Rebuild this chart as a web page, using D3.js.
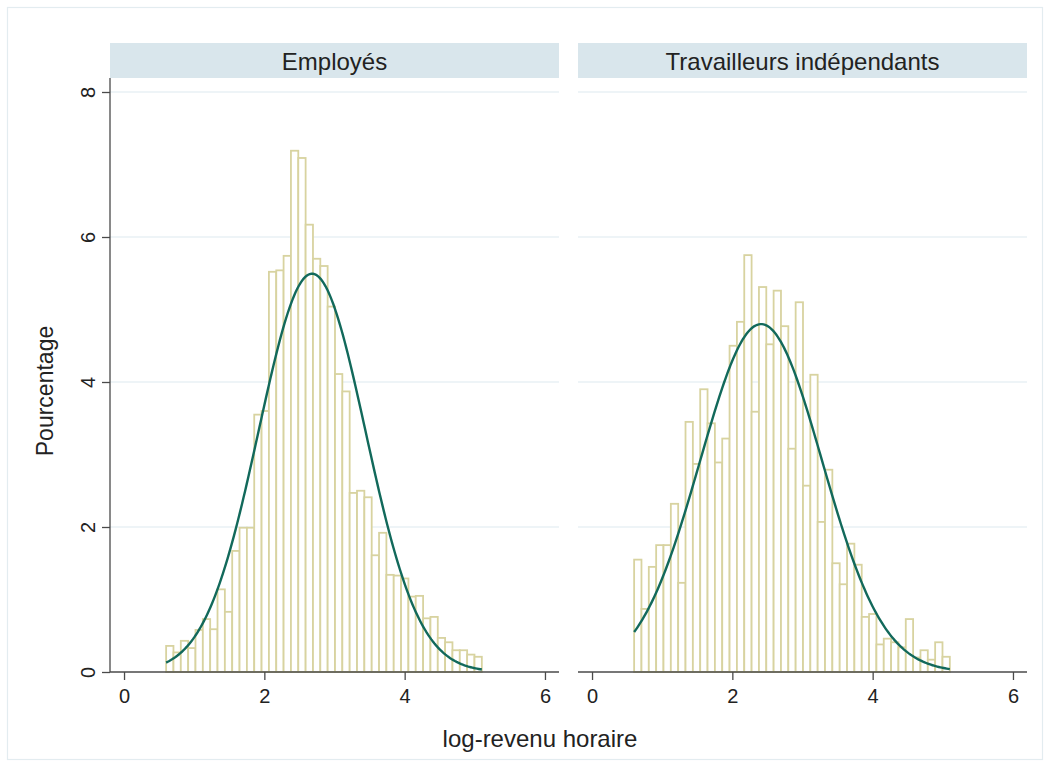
<!DOCTYPE html>
<html>
<head>
<meta charset="utf-8">
<script src="https://cdn.jsdelivr.net/npm/d3@7"></script>
<style>
  html, body { margin: 0; padding: 0; background: #ffffff; }
  svg { display: block; font-family: "Liberation Sans", Arial, sans-serif; }
</style>
</head>
<body>
<svg id="chart" width="1050" height="767"></svg>
<script>
// ---------------- DATA ----------------
const panelTitles = ["Employés", "Travailleurs indépendants"];
const xTicks = [0, 2, 4, 6];
const yTicks = [0, 2, 4, 6, 8];
const xTitle = "log-revenu horaire";
const yTitle = "Pourcentage";

// histogram bins (log hourly income)
const binMin = 0.6;
const binMax = 5.1;
const binCount = 43;

// percentages per bin
const employesPct = [
  0.36, 0.27, 0.43, 0.33, 0.58, 0.73, 0.59, 1.14, 0.83, 1.67,
  1.99, 1.99, 3.55, 3.60, 5.52, 5.54, 5.74, 7.19, 7.09, 6.17,
  5.70, 5.60, 5.04, 4.11, 3.87, 2.47, 2.50, 2.41, 1.61, 1.92,
  1.34, 1.33, 1.29, 1.04, 1.05, 0.74, 0.76, 0.47, 0.41, 0.30,
  0.30, 0.24, 0.21
];
const independantsPct = [
  1.55, 0.87, 1.45, 1.75, 1.75, 2.32, 1.23, 3.45, 2.87, 3.90,
  3.43, 2.89, 3.22, 4.50, 4.83, 5.75, 3.59, 5.31, 4.52, 5.26,
  4.77, 3.08, 5.10, 2.57, 4.10, 2.07, 2.79, 1.50, 1.21, 1.77,
  1.48, 0.76, 0.80, 0.38, 0.46, 0.41, 0.34, 0.73, 0.20, 0.30,
  0.17, 0.41, 0.21
];
// fitted normal density overlay (mean, sd of log income)
const normalMeans = [2.68, 2.41];
const normalSds = [0.76, 0.87];

// ---------------- LAYOUT ----------------
const svg = d3.select("#chart");
const W = 1050, H = 767;
const plotTop = 78, plotBottom = 672;
const stripTop = 43;
const panels = [
  { left: 110, right: 559, values: employesPct, mean: normalMeans[0], sd: normalSds[0], title: panelTitles[0] },
  { left: 578, right: 1027, values: independantsPct, mean: normalMeans[1], sd: normalSds[1], title: panelTitles[1] }
];
const binWidth = (binMax - binMin) / binCount;

const col = {
  frame: "#e3ecf0",
  strip: "#d9e6ec",
  grid: "#e8f1f4",
  bar: "#d8d3a0",
  curve: "#12695b",
  axis: "#4a4a4a",
  text: "#222222"
};

// outer frame
svg.append("rect")
  .attr("x", 7.5).attr("y", 7.5)
  .attr("width", W - 15).attr("height", H - 15)
  .attr("fill", "#ffffff")
  .attr("stroke", col.frame).attr("stroke-width", 1.2);

const y = d3.scaleLinear().domain([0, 8]).range([plotBottom, 92]);

panels.forEach((p, pi) => {
  const x = d3.scaleLinear().domain([-0.2, 6.2]).range([p.left, p.right]);
  const g = svg.append("g");

  // strip
  g.append("rect")
    .attr("x", p.left).attr("y", stripTop)
    .attr("width", p.right - p.left).attr("height", plotTop - stripTop)
    .attr("fill", col.strip);
  g.append("text")
    .attr("x", (p.left + p.right) / 2).attr("y", (stripTop + plotTop) / 2 + 1)
    .attr("dy", "0.36em")
    .attr("text-anchor", "middle")
    .attr("font-size", 24)
    .attr("fill", col.text)
    .text(p.title);

  // gridlines
  g.selectAll(".grid").data(yTicks.filter(t => t > 0)).enter()
    .append("line")
    .attr("x1", p.left).attr("x2", p.right)
    .attr("y1", d => y(d)).attr("y2", d => y(d))
    .attr("stroke", col.grid).attr("stroke-width", 1.5);

  // bars
  g.selectAll(".bar").data(p.values).enter()
    .append("rect")
    .attr("x", (d, i) => x(binMin + i * binWidth))
    .attr("width", (d, i) => x(binMin + (i + 1) * binWidth) - x(binMin + i * binWidth))
    .attr("y", d => y(d))
    .attr("height", d => plotBottom - y(d))
    .attr("fill", "#ffffff")
    .attr("stroke", col.bar)
    .attr("stroke-width", 1.8);

  // normal curve
  const pts = d3.range(0, 201).map(k => {
    const xv = binMin + (binMax - binMin) * k / 200;
    const z = (xv - p.mean) / p.sd;
    const dens = 100 * binWidth * Math.exp(-0.5 * z * z) / (p.sd * Math.sqrt(2 * Math.PI));
    return [xv, dens];
  });
  g.append("path")
    .datum(pts)
    .attr("d", d3.line().x(d => x(d[0])).y(d => y(d[1])))
    .attr("fill", "none")
    .attr("stroke", col.curve)
    .attr("stroke-width", 2.4);

  // x axis
  const xa = g.append("g")
    .attr("transform", `translate(0,${plotBottom})`)
    .call(d3.axisBottom(x).tickValues(xTicks).tickFormat(d3.format("d")).tickSize(8).tickPadding(9));
  xa.select(".domain").attr("d", `M${p.left},0H${p.right}`).attr("stroke", col.axis).attr("stroke-width", 1.3);
  xa.selectAll(".tick line").attr("stroke", col.axis).attr("stroke-width", 1.3);
  xa.selectAll(".tick text").attr("font-size", 20).attr("fill", col.text)
    .attr("font-family", '"Liberation Sans", Arial, sans-serif');

  // y axis (left panel only)
  if (pi === 0) {
    const ya = g.append("g")
      .attr("transform", `translate(${p.left},0)`)
      .call(d3.axisLeft(y).tickValues(yTicks).tickFormat(d3.format("d")).tickSize(8).tickPadding(0));
    ya.select(".domain").attr("d", `M0,${plotTop}V${plotBottom}`).attr("stroke", col.axis).attr("stroke-width", 1.3);
    ya.selectAll(".tick line").attr("stroke", col.axis).attr("stroke-width", 1.3);
    ya.selectAll(".tick text")
      .attr("font-size", 20).attr("fill", col.text)
      .attr("font-family", '"Liberation Sans", Arial, sans-serif')
      .attr("x", null).attr("dy", null)
      .attr("text-anchor", "middle")
      .attr("transform", "translate(-22,0) rotate(-90)")
      .attr("y", 0)
      .attr("dy", "0.36em");
  }
});

// axis titles
svg.append("text")
  .attr("x", 540)
  .attr("y", 738)
  .attr("dy", "0.36em")
  .attr("text-anchor", "middle")
  .attr("font-size", 24)
  .attr("fill", col.text)
  .text(xTitle);

svg.append("text")
  .attr("transform", `translate(45,391) rotate(-90)`)
  .attr("dy", "0.36em")
  .attr("text-anchor", "middle")
  .attr("font-size", 23)
  .attr("fill", col.text)
  .text(yTitle);
</script>
</body>
</html>
